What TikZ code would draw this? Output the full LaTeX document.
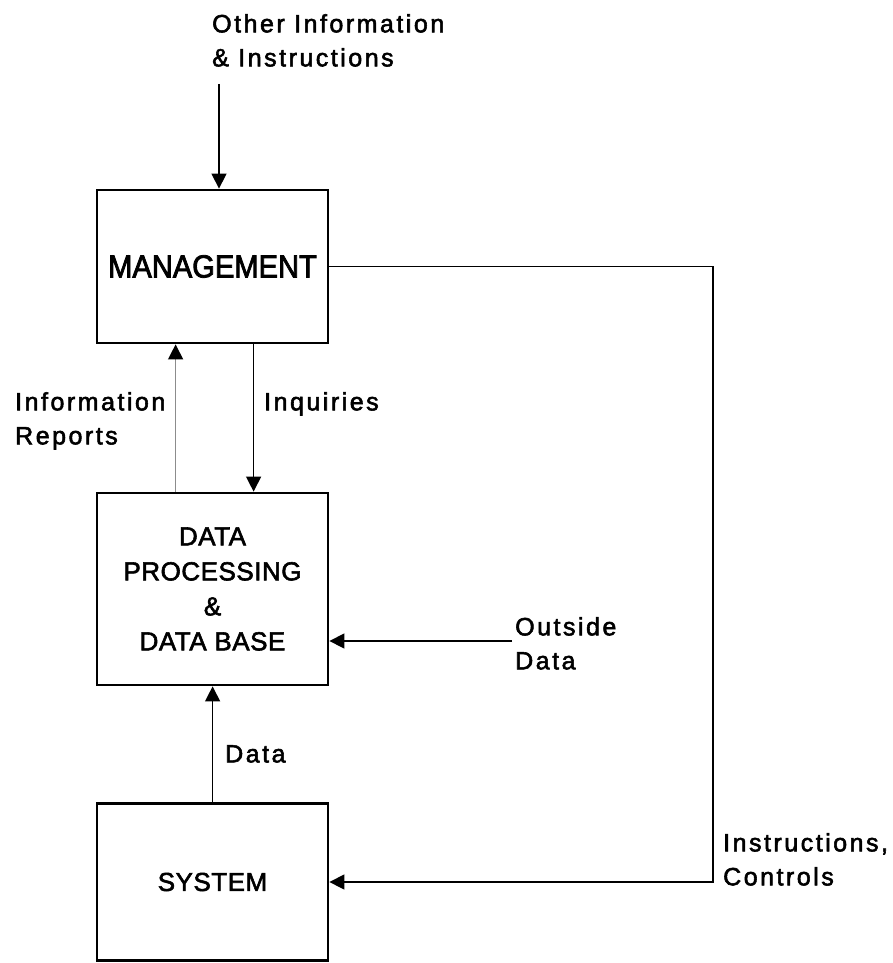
\documentclass[tikz,border=0pt]{standalone}
\usepackage{fontspec}
\setmainfont[FakeBold=2.2,LetterSpace=2]{Liberation Sans}
\newfontfamily\mgmtfont[FakeStretch=0.91,FakeBold=2.5]{Liberation Sans}
\newfontfamily\labfont[LetterSpace=10,FakeBold=2.2]{Liberation Sans}
\usetikzlibrary{arrows.meta}
\begin{document}
\begin{tikzpicture}[x=1pt,y=-1pt,
  blk/.style={draw=black, line width=2.8pt, minimum width=231pt, inner sep=0pt, align=center},
  arr/.style={line width=1.4pt, -{Triangle[width=15pt,length=15pt,color=black]}},
  lab/.style={anchor=north west, inner sep=0pt, align=left, font=\labfont\fontsize{25}{34}\selectfont},
  boxtxt/.style={font=\fontsize{26}{35}\selectfont}
]
\useasboundingbox (0,0) rectangle (892,963);

\node[blk, minimum height=153pt, font=\mgmtfont\fontsize{32}{38}\selectfont] (mgmt) at (212.5,266.5) {MANAGEMENT};
\node[blk, minimum height=192pt, boxtxt] (dp) at (212.5,589) {DATA\\PROCESSING\\\&\\DATA BASE};
\node[blk, minimum height=157pt, boxtxt] (sys) at (212.5,882) {SYSTEM};

\coordinate (topin) at (219,84);
\coordinate (odin) at (512,641);
\coordinate (rc) at (713,268);

\draw[arr] (topin) -- (topin |- mgmt.north);
\draw[arr, draw=black!45] ([xshift=80pt]dp.north west) -- ([xshift=80pt]mgmt.south west);
\draw[arr] ([xshift=158pt]mgmt.south west) -- ([xshift=158pt]dp.north west);
\draw[arr] (odin) -- (odin -| dp.east);
\draw[arr] ([xshift=117pt]sys.north west) -- ([xshift=117pt]dp.south west);
\draw[arr] (mgmt.east) -- (mgmt.east -| rc) -- (rc |- sys.east) -- (sys.east);

\node[lab] (l1) at (212,14) {Other Information\\\& Instructions};
\node[lab] (l2) at (15,392) {Information\\Reports};
\node[lab] (l3) at (264,392) {Inquiries};
\node[lab] (l4) at (515,617) {Outside\\Data};
\node[lab] (l5) at (225,745) {Data};
\node[lab] (l6) at (723,833) {Instructions,\\Controls};
\end{tikzpicture}
\end{document}
